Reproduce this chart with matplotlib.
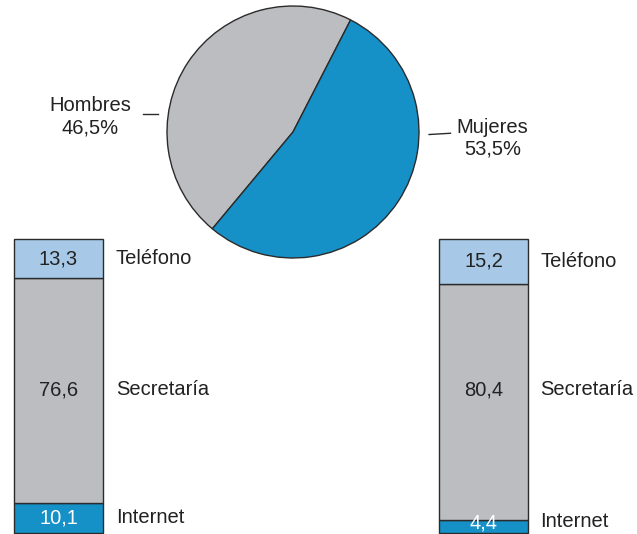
import matplotlib
matplotlib.use("Agg")
import matplotlib.pyplot as plt

plt.rcParams['font.family'] = ['Liberation Sans', 'DejaVu Sans']

# pie data
pie_labels = ["Hombres", "Mujeres"]
pie_values = [46.5, 53.5]
pie_texts = ["46,5%", "53,5%"]

# stacked bars (bottom to top)
bar_categories = ["Internet", "Secretaría", "Teléfono"]
bar_left = [10.1, 76.6, 13.3]
bar_right = [4.4, 80.4, 15.2]
bar_left_texts = ["10,1", "76,6", "13,3"]
bar_right_texts = ["4,4", "80,4", "15,2"]

gray = "#bcbdc1"
blue = "#1591c8"
light_blue = "#a7c9e7"
edge = "#2b2b2b"
seg_colors = [blue, gray, light_blue]
text_colors = ["white", "#222222", "#222222"]

W, H = 637, 534
fig = plt.figure(figsize=(W / 100, H / 100), dpi=100)
fs = 14.5

def px_axes(x0, y0, x1, y1):
    # pixel box (top-left origin) -> figure fraction
    return fig.add_axes([x0 / W, 1 - y1 / H, (x1 - x0) / W, (y1 - y0) / H])

# pie
cx, cy, r = 293, 132, 126
pax = px_axes(cx - r, cy - r, cx + r, cy + r)
pax.pie(pie_values, colors=[gray, blue], startangle=62.8, counterclock=True,
        wedgeprops=dict(edgecolor=edge, linewidth=1.0))
pax.set_xlim(-1, 1)
pax.set_ylim(-1, 1)
pax.axis("off")

# leader lines + labels
pax.plot([-1.19, -1.075], [0.14, 0.14], color=edge, lw=1, clip_on=False)
pax.plot([1.08, 1.25], [-0.02, -0.01], color=edge, lw=1, clip_on=False)
pax.text(-1.61, 0.12, pie_labels[0] + "\n" + pie_texts[0], ha="center", va="center",
         fontsize=fs, color="#222222", linespacing=1.2)
pax.text(1.585, -0.05, pie_labels[1] + "\n" + pie_texts[1], ha="center", va="center",
         fontsize=fs, color="#222222", linespacing=1.2)


def draw_bar(box, values, texts, label_x, value_y, cat_y):
    ax = px_axes(*box)
    bottom = 0
    for v, c in zip(values, seg_colors):
        b = ax.bar([0], [v], bottom=bottom, width=0.99, color=c, edgecolor=edge, linewidth=1.0)
        for p in b:
            p.set_clip_on(False)
        bottom += v
    ax.set_xlim(-0.5, 0.5)
    ax.set_ylim(0, 100)
    ax.axis("off")
    for t, y, tc in zip(texts, value_y, text_colors):
        ax.text(0, y, t, ha="center", va="center", fontsize=fs, color=tc)
    tr = ax.get_yaxis_transform()
    for cat, y in zip(bar_categories, cat_y):
        ax.text(label_x, y, cat, transform=tr, ha="left", va="center",
                fontsize=fs, color="#222222", clip_on=False)


draw_bar((14, 239, 103, 532.5), bar_left, bar_left_texts, 1.145,
         [5.1, 48.6, 93.3], [5.1, 48.6, 93.3])
draw_bar((439, 239, 528, 532.5), bar_right, bar_right_texts, 1.135,
         [3.4, 48.6, 92.5], [3.7, 48.6, 92.5])

fig.savefig("out.png", dpi=100)
